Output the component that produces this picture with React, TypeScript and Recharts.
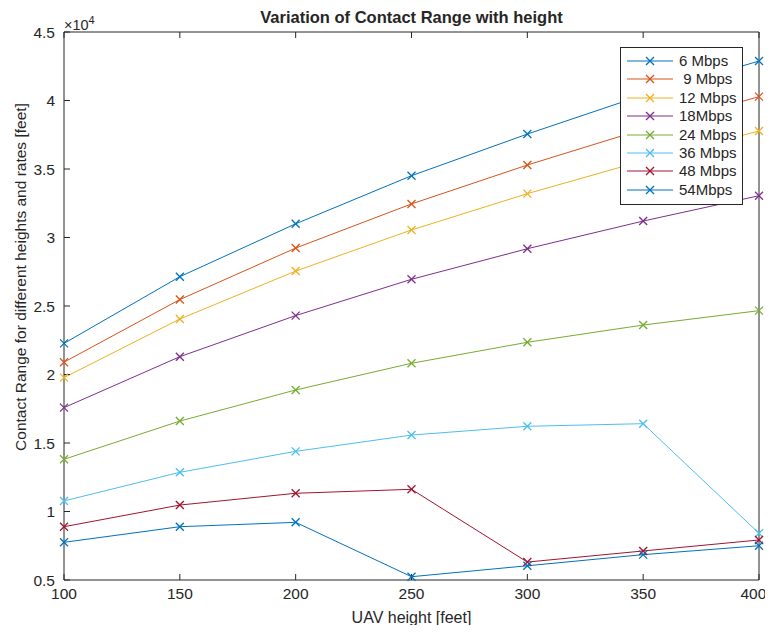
import React from "react";
import { LineChart, Line, XAxis, YAxis } from "recharts";

// UAV heights in feet
const heights = [100, 150, 200, 250, 300, 350, 400];

// contact range in feet, one list per data rate
const range6 = [22270, 27140, 31000, 34510, 37550, 40400, 42880];
const range9 = [20900, 25470, 29230, 32450, 35290, 37900, 40280];
const range12 = [19770, 24050, 27550, 30550, 33200, 35600, 37770];
const range18 = [17580, 21300, 24300, 26950, 29180, 31200, 33050];
const range24 = [13810, 16600, 18870, 20820, 22350, 23610, 24660];
const range36 = [10770, 12860, 14390, 15580, 16220, 16410, 8410];
const range48 = [8890, 10470, 11330, 11620, 6310, 7120, 7920];
const range54 = [7750, 8890, 9210, 5240, 6040, 6850, 7500];

const rateNames = ["6 Mbps", " 9 Mbps", "12 Mbps", "18Mbps", "24 Mbps", "36 Mbps", "48 Mbps", "54Mbps"];
const rateColors = ["#0072BD", "#D95319", "#EDB120", "#7E2F8E", "#77AC30", "#4DBEEE", "#A2142F", "#0072BD"];
const rateRanges = [range6, range9, range12, range18, range24, range36, range48, range54];

const xTicks = [100, 150, 200, 250, 300, 350, 400];
const yTicks = [5000, 10000, 15000, 20000, 25000, 30000, 35000, 40000, 45000];

const data = heights.map((h, i) => {
  const row: Record<string, number> = { height: h };
  rateRanges.forEach((r, k) => {
    row["s" + k] = r[i];
  });
  return row;
});

const FONT = "'Liberation Sans', Arial, Helvetica, sans-serif";
const INK = "#262626";

// MATLAB style 'x' marker
const Cross = (color: string) => (props: any) => {
  const { cx, cy, index } = props;
  if (cx == null || cy == null) return null;
  const s = 4;
  return (
    <g key={"m" + index}>
      <line x1={cx - s} y1={cy - s} x2={cx + s} y2={cy + s} stroke={color} strokeWidth={1.3} />
      <line x1={cx - s} y1={cy + s} x2={cx + s} y2={cy - s} stroke={color} strokeWidth={1.3} />
    </g>
  );
};

const fmtY = (v: number) => String(v / 10000);
const blank = () => "";

const tickStyle = { fill: INK, fontSize: 15.5, fontFamily: FONT };

const App = () => {
  return (
    <div style={{ position: "relative", width: 757, height: 617, fontFamily: FONT, color: INK }}>
      <LineChart
        width={757}
        height={617}
        data={data}
        margin={{ top: 23, right: 5, bottom: 0, left: 0 }}
      >
        <XAxis
          dataKey="height"
          type="number"
          domain={[100, 400]}
          ticks={xTicks}
          tickSize={-6}
          tickMargin={14}
          height={45}
          stroke={INK}
          tick={tickStyle}
        />
        <XAxis
          xAxisId="top"
          orientation="top"
          dataKey="height"
          type="number"
          domain={[100, 400]}
          ticks={xTicks}
          tickSize={-6}
          tickFormatter={blank}
          height={1}
          stroke={INK}
        />
        <YAxis
          type="number"
          domain={[5000, 45000]}
          ticks={yTicks}
          tickFormatter={fmtY}
          tickSize={-6}
          tickMargin={15}
          width={56}
          stroke={INK}
          tick={tickStyle}
          interval={0}
        />
        <YAxis
          yAxisId="right"
          orientation="right"
          type="number"
          domain={[5000, 45000]}
          ticks={yTicks}
          tickFormatter={blank}
          tickSize={-6}
          width={1}
          stroke={INK}
          interval={0}
        />
        {rateNames.map((name, k) => (
          <Line
            key={k}
            name={name}
            dataKey={"s" + k}
            stroke={rateColors[k]}
            strokeWidth={1}
            dot={Cross(rateColors[k])}
            activeDot={false}
            isAnimationActive={false}
          />
        ))}
      </LineChart>

      <div
        style={{
          position: "absolute",
          left: 0,
          width: 757,
          top: 0,
          textAlign: "center",
          fontWeight: "bold",
          fontSize: 16.5,
          lineHeight: "18px",
          paddingLeft: 50,
          boxSizing: "border-box",
        }}
      >
        Variation of Contact Range with height
      </div>

      <div style={{ position: "absolute", left: 56, top: 4, fontSize: 14.5, lineHeight: "16px" }}>
        ×10<sup style={{ fontSize: 11, verticalAlign: "6px" }}>4</sup>
      </div>

      <div
        style={{
          position: "absolute",
          left: 56,
          width: 695,
          top: 601,
          textAlign: "center",
          fontSize: 16,
          lineHeight: "18px",
        }}
      >
        UAV height [feet]
      </div>

      <div
        style={{
          position: "absolute",
          left: 13 - 300,
          top: 269 - 10,
          width: 600,
          textAlign: "center",
          fontSize: 15.5,
          lineHeight: "20px",
          transform: "rotate(-90deg)",
        }}
      >
        Contact Range for different heights and rates [feet]
      </div>

      <div
        style={{
          position: "absolute",
          left: 612,
          top: 39,
          width: 121,
          height: 152,
          border: "1px solid " + INK,
          background: "#fff",
          paddingTop: 4,
          boxSizing: "content-box",
        }}
      >
        {rateNames.map((name, k) => (
          <div key={k} style={{ position: "relative", height: 18.4, fontSize: 15, lineHeight: "18px" }}>
            <svg width={60} height={18} style={{ position: "absolute", left: 6, top: 0 }}>
              <line x1={0} y1={9} x2={46} y2={9} stroke={rateColors[k]} strokeWidth={1} />
              <line x1={19} y1={5} x2={27} y2={13} stroke={rateColors[k]} strokeWidth={1.3} />
              <line x1={19} y1={13} x2={27} y2={5} stroke={rateColors[k]} strokeWidth={1.3} />
            </svg>
            <span style={{ position: "absolute", left: 58, top: 0, whiteSpace: "pre" }}>{name}</span>
          </div>
        ))}
      </div>
    </div>
  );
};

export default App;
